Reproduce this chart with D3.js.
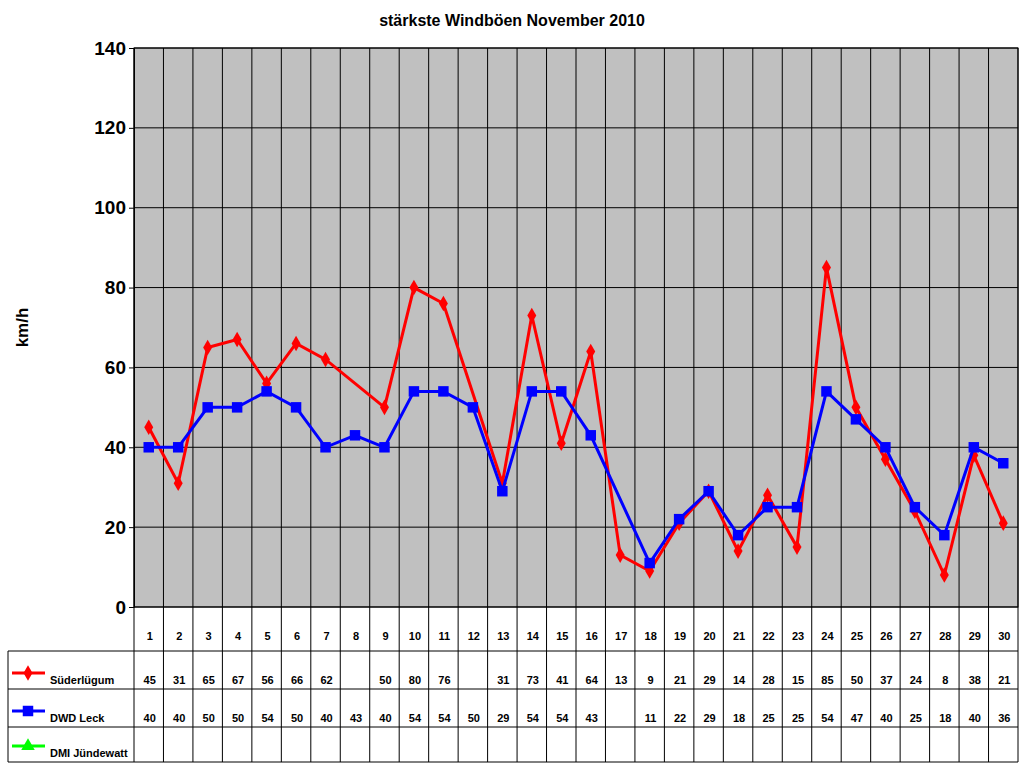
<!DOCTYPE html>
<html><head><meta charset="utf-8">
<script src="https://cdn.jsdelivr.net/npm/d3@7"></script>
<style>body{margin:0;background:#fff}text{font-family:Arial,"Liberation Sans",sans-serif;font-weight:bold}</style>
</head><body>
<script>
const days = d3.range(1, 31);
const suederluegum = [45,31,65,67,56,66,62,null,50,80,76,null,31,73,41,64,13,9,21,29,14,28,15,85,50,37,24,8,38,21];
const dwdLeck = [40,40,50,50,54,50,40,43,40,54,54,50,29,54,54,43,null,11,22,29,18,25,25,54,47,40,25,18,40,36];
const dmi = days.map(() => null);
const yTicks = [0,20,40,60,80,100,120,140];

const series = [
  {name: "Süderlügum", values: suederluegum, color: "#ff0000", sym: d3.symbolDiamond, size: 70},
  {name: "DWD Leck", values: dwdLeck, color: "#0000ff", sym: d3.symbolSquare, size: 110},
  {name: "DMI Jündewatt", values: dmi, color: "#00ff00", sym: d3.symbolTriangle, size: 80}
];

const W = 1024, H = 768;
const L = 134, R = 1018, T = 48, B = 607;
const rowY = [607, 651, 689, 727, 762];
const svg = d3.select("body").append("svg").attr("width", W).attr("height", H);

const x = d3.scaleBand().domain(days).range([L, R]);
const y = d3.scaleLinear().domain([0, 140]).range([B, T]);

svg.append("rect").attr("x", L).attr("y", T).attr("width", R - L).attr("height", B - T).attr("fill", "#c0c0c0");

// grid
svg.selectAll(".hg").data(yTicks).enter().append("line")
  .attr("x1", L).attr("x2", R).attr("y1", d => y(d)).attr("y2", d => y(d))
  .attr("stroke", "#000").attr("stroke-width", 1);
svg.selectAll(".vg").data(days.concat([31])).enter().append("line")
  .attr("x1", d => d === 31 ? R : x(d)).attr("x2", d => d === 31 ? R : x(d))
  .attr("y1", T).attr("y2", rowY[4]).attr("stroke", "#000");
svg.append("rect").attr("x", L).attr("y", T).attr("width", R - L).attr("height", B - T)
  .attr("fill", "none").attr("stroke", "#000");

// y axis
svg.append("g").attr("transform", `translate(${L},0)`)
  .call(d3.axisLeft(y).tickValues(yTicks).tickSize(5).tickSizeOuter(0))
  .call(g => g.select(".domain").attr("stroke", "#000"))
  .call(g => g.selectAll("text").attr("font-size", 19).attr("font-weight", "bold").attr("fill", "#000").attr("font-family", "Arial, Liberation Sans"));

svg.append("text").attr("transform", `translate(28,${(T + B) / 2}) rotate(-90)`)
  .attr("text-anchor", "middle").attr("font-size", 17).text("km/h");
svg.append("text").attr("x", 512).attr("y", 26).attr("text-anchor", "middle").attr("font-size", 16).text("stärkste Windböen November 2010");

// table
for (let i = 1; i < 5; i++) {
  svg.append("line").attr("x1", i === 1 ? 8 : 8).attr("x2", R).attr("y1", rowY[i]).attr("y2", rowY[i]).attr("stroke", "#000");
}
svg.append("line").attr("x1", 8).attr("x2", 8).attr("y1", rowY[1]).attr("y2", rowY[4]).attr("stroke", "#000");
svg.selectAll(".dl").data(days).enter().append("text")
  .attr("x", d => x(d) + x.bandwidth() / 2 + 1).attr("y", 640).attr("text-anchor", "middle")
  .attr("font-size", 11).text(d => d);

series.forEach((s, i) => {
  const yy = rowY[i + 2] - 5;
  svg.selectAll(null).data(days).enter().append("text")
    .attr("x", d => x(d) + x.bandwidth() / 2 + 1).attr("y", yy).attr("text-anchor", "middle")
    .attr("font-size", 11).text((d, j) => s.values[j] == null ? "" : s.values[j]);
  svg.append("line").attr("x1", 12).attr("x2", 45).attr("y1", yy - 11).attr("y2", yy - 11)
    .attr("stroke", s.color).attr("stroke-width", 3);
  svg.append("path").attr("d", d3.symbol(s.sym, s.size)())
    .attr("transform", `translate(28,${yy - 11})`).attr("fill", s.color);
  svg.append("text").attr("x", 50).attr("y", yy).attr("font-size", 11).text(s.name);
});

// lines
const line = d3.line().x(d => x(d.day) + x.bandwidth() / 2).y(d => y(d.v));
series.forEach(s => {
  const pts = days.map((d, j) => ({day: d, v: s.values[j]})).filter(p => p.v != null);
  if (!pts.length) return;
  svg.append("path").attr("d", line(pts)).attr("fill", "none").attr("stroke", s.color).attr("stroke-width", 3);
  svg.selectAll(null).data(pts).enter().append("path")
    .attr("d", d3.symbol(s.sym, s.size)())
    .attr("transform", d => `translate(${x(d.day) + x.bandwidth() / 2},${y(d.v)})`)
    .attr("fill", s.color);
});
</script>
</body></html>
